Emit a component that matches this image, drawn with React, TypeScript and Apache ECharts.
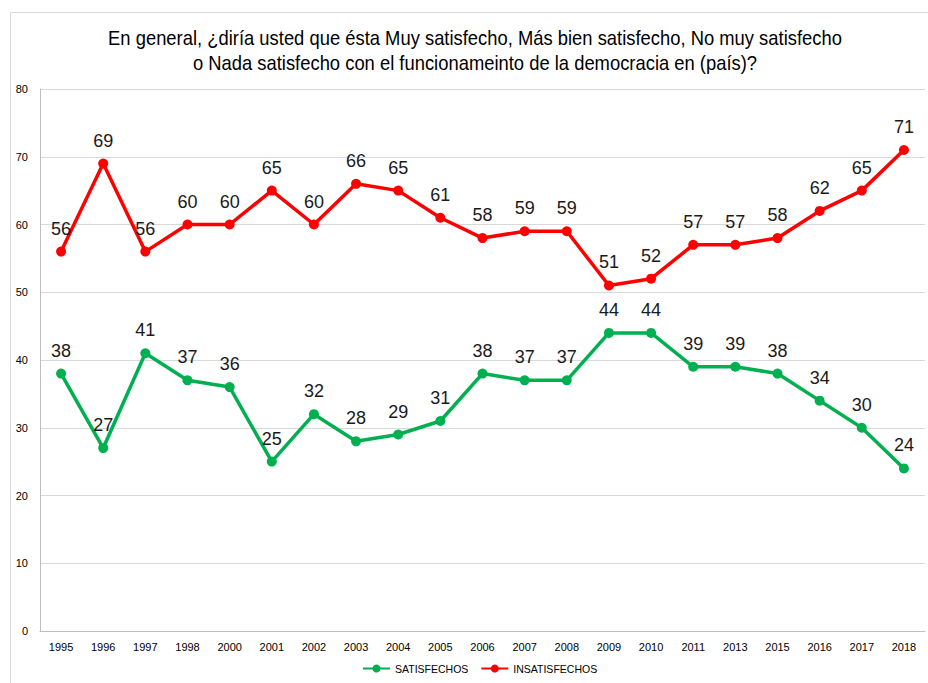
import React, { useEffect, useRef } from "react";
import * as echarts from "echarts";

const years = ["1995","1996","1997","1998","2000","2001","2002","2003","2004","2005","2006","2007","2008","2009","2010","2011","2013","2015","2016","2017","2018"];
const satisfechos = [38,27,41,37,36,25,32,28,29,31,38,37,37,44,44,39,39,38,34,30,24];
const insatisfechos = [56,69,56,60,60,65,60,66,65,61,58,59,59,51,52,57,57,58,62,65,71];
const titleLine1 = "En general, ¿diría usted que ésta Muy satisfecho, Más bien satisfecho, No muy satisfecho";
const titleLine2 = "o Nada satisfecho con el funcionameinto de la democracia en (país)?";

const FONT = "'Liberation Sans Narrow', 'Arial Narrow', 'Liberation Sans', Arial, sans-serif";

export default function App() {
  const ref = useRef<HTMLDivElement>(null);
  useEffect(() => {
    const chart = echarts.init(ref.current!, null, { renderer: "svg" });
    const mk = (name: string, data: number[], color: string) => ({
      name,
      type: "line",
      data,
      symbol: "circle",
      symbolSize: 10,
      lineStyle: { color, width: 3.5 },
      itemStyle: { color },
      label: {
        show: true,
        position: "top",
        distance: 9,
        fontFamily: FONT,
        fontSize: 18,
        color: "#1a1a1a",
      },
    });
    const titleStyle = (text: string) => ({
      text,
      fontFamily: FONT,
      fontSize: 20,
      fill: "#000",
      textAlign: "center",
      textVerticalAlign: "middle",
    });
    chart.setOption({
      animation: false,
      backgroundColor: "#fff",
      textStyle: { fontFamily: FONT },
      graphic: [
        { type: "rect", shape: { x: 10.5, y: 12.5, width: 940, height: 700 }, style: { fill: "none", stroke: "#d9d9d9", lineWidth: 1 }, silent: true },
        { type: "text", x: 475, y: 38, scaleX: 0.92, style: titleStyle(titleLine1), silent: true },
        { type: "text", x: 475, y: 63, scaleX: 0.92, style: titleStyle(titleLine2), silent: true },
      ],
      legend: {
        bottom: 4,
        left: 357,
        itemWidth: 27,
        itemHeight: 10,
        itemGap: 12,
        textStyle: { fontFamily: FONT, fontSize: 10.5, color: "#000" },
        data: ["SATISFECHOS", "INSATISFECHOS"],
      },
      grid: { left: 40, right: 3, top: 89, bottom: 52, containLabel: false },
      xAxis: {
        type: "category",
        data: years,
        boundaryGap: true,
        axisLine: { lineStyle: { color: "#bfbfbf", width: 1 } },
        axisTick: { show: false },
        axisLabel: { fontFamily: FONT, fontSize: 11, color: "#000", margin: 10 },
      },
      yAxis: {
        type: "value",
        min: 0,
        max: 80,
        interval: 10,
        axisLine: { show: true, lineStyle: { color: "#bfbfbf", width: 1 } },
        axisTick: { show: false },
        splitLine: { lineStyle: { color: "#d9d9d9", width: 1 } },
        axisLabel: { fontFamily: FONT, fontSize: 11, color: "#000", margin: 12 },
      },
      series: [
        mk("SATISFECHOS", satisfechos, "#00b050"),
        mk("INSATISFECHOS", insatisfechos, "#ff0000"),
      ],
    });
    return () => chart.dispose();
  }, []);
  return <div ref={ref} style={{ position: "fixed", left: 0, top: 0, width: 928, height: 683 }} />;
}
